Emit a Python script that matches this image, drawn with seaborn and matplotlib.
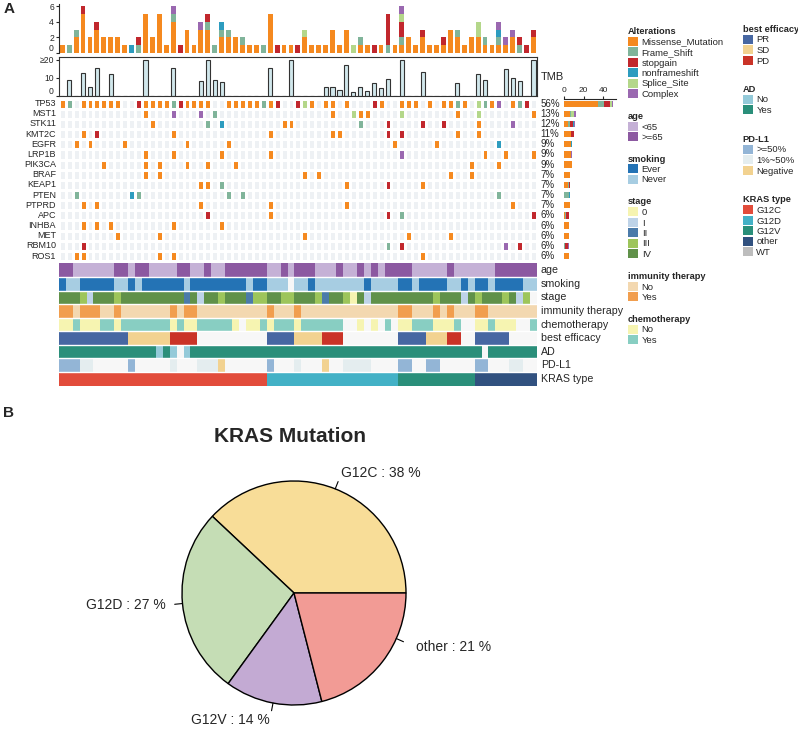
import numpy as np
import pandas as pd
import matplotlib.pyplot as plt
import seaborn as sns
from matplotlib.colors import ListedColormap
from matplotlib.patches import Patch

sns.set_style("white")
plt.rcParams["font.family"] = ["Liberation Sans", "DejaVu Sans"]

W, H = 798, 731

# ---------------- oncoprint data (69 samples shown, cohort of 89) ----------------
n_samples = 69
cohort_size = 89
genes = ["TP53", "MST1", "STK11", "KMT2C", "EGFR", "LRP1B", "PIK3CA", "BRAF",
         "KEAP1", "PTEN", "PTPRD", "APC", "INHBA", "MET", "RBM10", "ROS1"]

alterations = ["Missense_Mutation", "Frame_Shift", "stopgain",
               "nonframeshift", "Splice_Site", "Complex"]
alt_colors = ["#F5891F", "#80B49A", "#C1272D", "#2D9CBF", "#B4D78A", "#9A68B0"]

# sample columns carrying each alteration type, per gene
missense = {
    "TP53": [0, 3, 4, 5, 6, 7, 8, 12, 13, 14, 15, 18, 19, 20, 21, 24, 25, 26, 27, 28,
             30, 36, 38, 39, 41, 46, 49, 50, 51, 53, 55, 56, 58, 62, 65],
    "MST1": [12, 39, 43, 44, 57, 68],
    "STK11": [13, 32, 33, 60],
    "KMT2C": [3, 16, 30, 39, 40, 57, 60],
    "EGFR": [2, 4, 9, 18, 24, 48, 54],
    "LRP1B": [12, 16, 23, 30, 61, 64, 68],
    "PIK3CA": [6, 12, 14, 18, 21, 25, 59, 63],
    "BRAF": [12, 14, 35, 37, 56, 59],
    "KEAP1": [20, 21, 41, 52],
    "PTPRD": [3, 5, 20, 30, 41, 65],
    "APC": [30],
    "INHBA": [3, 5, 7, 16, 23],
    "MET": [8, 14, 35, 50, 56],
    "ROS1": [2, 3, 14, 16, 52],
}
frame_shift = {
    "TP53": [1, 16, 29, 57, 61, 66],
    "MST1": [22],
    "STK11": [21, 43],
    "KEAP1": [23],
    "PTEN": [2, 11, 24, 26, 63],
    "APC": [49],
    "RBM10": [47],
}
stopgain = {
    "TP53": [11, 17, 31, 34, 45, 67],
    "STK11": [47, 52, 55],
    "KMT2C": [5, 47, 49],
    "KEAP1": [47],
    "APC": [21, 47, 68],
    "RBM10": [3, 49, 66],
}
nonframeshift = {"STK11": [23], "EGFR": [63], "PTEN": [10]}
splice_site = {"TP53": [35, 60], "MST1": [42, 49, 60]}
complex_mut = {"TP53": [63], "MST1": [16, 20], "STK11": [65], "LRP1B": [49], "RBM10": [64]}

# tumour mutation burden per sample (display capped at 20)
tmb = [0, 9, 0, 12.5, 5, 15.5, 0, 12, 0, 0,
       0, 0, 20, 0, 0, 0, 15.5, 0, 0, 0,
       8.5, 20, 9, 7.5, 0, 0, 0, 0, 0, 0,
       15.5, 0, 0, 20, 0, 0, 0, 0, 5, 5,
       3.4, 17, 2.2, 4.7, 2.8, 7, 4.3, 9.3, 0, 20,
       0, 0, 13, 0, 0, 0, 0, 7, 0, 0,
       12, 8.8, 0, 0, 15, 9.7, 8.2, 0, 20]

# clinical annotation tracks, as (value, run length) along the samples
age_runs = [(">=65", 2), ("<65", 6), (">=65", 2), ("<65", 1), (">=65", 2), ("<65", 4),
            (">=65", 2), ("<65", 2), (">=65", 1), ("<65", 2), (">=65", 6), ("<65", 2),
            (">=65", 1), ("<65", 1), (">=65", 3), ("<65", 3), (">=65", 1), ("<65", 2),
            (">=65", 1), ("<65", 1), (">=65", 1), ("<65", 1), (">=65", 4), ("<65", 5),
            (">=65", 1), ("<65", 6), (">=65", 6)]
smoking_runs = [("Ever", 1), ("Never", 2), ("Ever", 5), ("Never", 2), ("Ever", 1), ("Never", 1),
                ("Ever", 6), ("Never", 1), ("Ever", 8), ("Never", 1), ("Ever", 2), ("Never", 3),
                ("NA", 1), ("Never", 2), ("Ever", 1), ("Never", 7), ("Ever", 1), ("Never", 4),
                ("Ever", 2), ("Never", 1), ("Ever", 4), ("Never", 2), ("Ever", 1), ("Never", 1),
                ("Ever", 2), ("Never", 1), ("Ever", 4), ("Never", 2)]
stage_runs = [("IV", 3), ("III", 1), ("I", 1), ("IV", 3), ("III", 1), ("IV", 9), ("II", 1),
              ("IV", 1), ("I", 1), ("IV", 2), ("III", 1), ("IV", 3), ("II", 1), ("III", 2),
              ("IV", 2), ("III", 2), ("IV", 3), ("III", 1), ("II", 1), ("IV", 2), ("III", 1),
              ("0", 1), ("IV", 1), ("I", 1), ("IV", 9), ("III", 1), ("IV", 3), ("I", 1),
              ("IV", 1), ("III", 1), ("IV", 3), ("III", 1), ("IV", 1), ("I", 1), ("III", 1),
              ("NA", 1)]
immunity_runs = [("Yes", 2), ("No", 1), ("Yes", 3), ("No", 2), ("Yes", 1), ("No", 7), ("Yes", 1),
                 ("No", 1), ("Yes", 2), ("No", 10), ("Yes", 1), ("No", 3), ("Yes", 1), ("No", 14),
                 ("Yes", 2), ("No", 3), ("Yes", 1), ("No", 1), ("Yes", 1), ("No", 3), ("Yes", 2),
                 ("No", 7)]
chemo_runs = [("No", 2), ("Yes", 1), ("No", 3), ("Yes", 2), ("No", 1), ("Yes", 7), ("No", 1),
              ("Yes", 1), ("No", 2), ("Yes", 5), ("No", 1), ("NA", 1), ("No", 2), ("Yes", 1),
              ("No", 1), ("Yes", 3), ("No", 1), ("Yes", 6), ("NA", 2), ("No", 1), ("NA", 1),
              ("No", 1), ("NA", 1), ("Yes", 1), ("NA", 1), ("No", 2), ("Yes", 3), ("No", 3),
              ("Yes", 1), ("NA", 2), ("No", 2), ("Yes", 1), ("No", 3), ("NA", 2), ("Yes", 1)]
efficacy_runs = [("PR", 10), ("SD", 6), ("PD", 4), ("NA", 10), ("PR", 4), ("SD", 4), ("PD", 3),
                 ("NA", 8), ("PR", 4), ("SD", 3), ("PD", 2), ("NA", 2), ("PR", 5), ("NA", 4)]
ad_runs = [("Yes", 14), ("No", 1), ("Yes", 1), ("No", 1), ("NA", 1), ("No", 1), ("Yes", 42),
           ("NA", 1), ("Yes", 7)]
pdl1_runs = [(">=50%", 3), ("1%~50%", 2), ("NA", 5), (">=50%", 1), ("NA", 5), ("1%~50%", 1),
             ("NA", 3), ("1%~50%", 3), ("Negative", 1), ("NA", 6), (">=50%", 1), ("NA", 3),
             ("1%~50%", 1), ("NA", 3), ("Negative", 1), ("NA", 2), ("1%~50%", 4), ("NA", 4),
             (">=50%", 2), ("NA", 2), (">=50%", 2), ("NA", 5), (">=50%", 2), ("NA", 3),
             ("1%~50%", 2), ("NA", 2)]
kras_runs = [("G12C", 30), ("G12D", 19), ("G12V", 11), ("other", 9)]

track_names = ["age", "smoking", "stage", "immunity therapy", "chemotherapy",
               "best efficacy", "AD", "PD-L1", "KRAS type"]
track_palettes = [
    {"<65": "#C5B1D6", ">=65": "#8C59A1"},
    {"Ever": "#2473B5", "Never": "#A7CDE2"},
    {"0": "#F6F4B1", "I": "#BED3E8", "II": "#4B7BAA", "III": "#9DC55B", "IV": "#609149"},
    {"No": "#F3D8B0", "Yes": "#F19E4E"},
    {"No": "#F6F4B1", "Yes": "#88CEC2"},
    {"PR": "#4767A2", "SD": "#F2D290", "PD": "#CA3327"},
    {"No": "#94CAD9", "Yes": "#2A8F7A"},
    {">=50%": "#93B5D6", "1%~50%": "#E4EDEF", "Negative": "#F2D290"},
    {"G12C": "#E24C3B", "G12D": "#43B1C6", "G12V": "#2A8F7A", "other": "#31517F", "WT": "#BDBDBD"},
]
na_color = "#F7F7F7"

# pie of KRAS subtypes
kras_labels = ["G12C", "G12D", "G12V", "other"]
kras_share = [38, 27, 14, 21]
pie_colors = ["#F8DD98", "#C5DDB5", "#C3AAD3", "#F29B95"]


def expand(runs):
    return [v for v, n in runs for _ in range(n)]


# mutation matrix: 0 = none, 1..6 = alteration type
onco = np.zeros((len(genes), n_samples), dtype=int)
for code, table in enumerate([missense, frame_shift, stopgain, nonframeshift,
                              splice_site, complex_mut], start=1):
    for g, cols in table.items():
        onco[genes.index(g), cols] = code

# annotation codes into one shared colour list
track_runs = [age_runs, smoking_runs, stage_runs, immunity_runs, chemo_runs,
              efficacy_runs, ad_runs, pdl1_runs, kras_runs]
palette_colors = [na_color]
track_codes = np.zeros((len(track_names), n_samples), dtype=int)
for i, (runs, pal) in enumerate(zip(track_runs, track_palettes)):
    offset = len(palette_colors)
    cats = list(pal)
    palette_colors += list(pal.values())
    track_codes[i] = [0 if v == "NA" else offset + cats.index(v) for v in expand(runs)]

fig = plt.figure(figsize=(W / 100, H / 100), dpi=100)


def px_axes(x0, y0, x1, y1):
    return fig.add_axes([x0 / W, 1 - y1 / H, (x1 - x0) / W, (y1 - y0) / H])


GX0, GX1 = 58.8, 537.0
xpos = np.arange(n_samples) + 0.5

# top stacked barplot of alterations per sample
ax_top = px_axes(GX0, 4, GX1, 53)
bottom = np.zeros(n_samples)
for t, color in enumerate(alt_colors):
    h = (onco == t + 1).sum(axis=0)
    ax_top.bar(xpos, h, bottom=bottom, width=0.7, color=color, linewidth=0)
    bottom += h
ax_top.set_xlim(0, n_samples)
ax_top.set_ylim(0, 6.3)
ax_top.set_yticks([0, 2, 4, 6])
ax_top.set_xticks([])
sns.despine(ax=ax_top, bottom=True)
ax_top.spines["left"].set_linewidth(0.8)
ax_top.tick_params(axis="y", left=True, labelsize=6.2, length=2.5, width=0.8, pad=1)
ax_top.get_yticklabels()[0].set_va("bottom")

# TMB panel
ax_tmb = px_axes(GX0, 57, GX1, 96)
sns.barplot(x=np.arange(n_samples), y=tmb, color="#CDEAF0", edgecolor="#333333",
            linewidth=0.8, width=0.6, ax=ax_tmb)
ax_tmb.set_xlim(-0.5, n_samples - 0.5)
ax_tmb.set_ylim(0, 21.5)
ax_tmb.set_yticks([0, 10, 20])
ax_tmb.set_yticklabels(["0", "10", "≥20"])
ax_tmb.set_xticks([])
ax_tmb.set_xlabel("")
ax_tmb.set_ylabel("")
for s in ax_tmb.spines.values():
    s.set_linewidth(0.8)
    s.set_color("#333333")
ax_tmb.tick_params(axis="y", left=True, labelsize=6.2, length=2.5, width=0.8, pad=1)
ax_tmb.get_yticklabels()[0].set_va("bottom")
fig.text(541 / W, 1 - 77 / H, "TMB", fontsize=8, va="center", ha="left")

# mutation grid
ax_grid = px_axes(GX0, 98.6, GX1, 261.1)
sns.heatmap(pd.DataFrame(onco, index=genes), cmap=ListedColormap(["#EEF1F4"] + alt_colors),
            vmin=-0.5, vmax=6.5, cbar=False, linewidths=1.0, linecolor="white",
            xticklabels=False, yticklabels=True, ax=ax_grid)
for r in range(1, len(genes)):
    ax_grid.axhline(r, color="white", lw=2.2)
ax_grid.tick_params(axis="y", length=0, pad=2, labelsize=6.5)
plt.setp(ax_grid.get_yticklabels(), rotation=0)
ax_grid.set_xlabel("")
ax_grid.set_ylabel("")
gene_totals = (onco > 0).sum(axis=1)
for r, total in enumerate(gene_totals):
    ax_grid.text(n_samples + 0.55, r + 0.5, f"{round(100 * total / cohort_size)}%",
                 va="center", ha="left", fontsize=7, clip_on=False)

# per-gene stacked bars on the right
ax_bar = px_axes(564, 98.6, 616, 261.1)
left = np.zeros(len(genes))
for t, color in enumerate(alt_colors):
    w = (onco == t + 1).sum(axis=1)
    ax_bar.barh(np.arange(len(genes)) + 0.5, w, left=left, height=0.62, color=color, linewidth=0)
    left += w
ax_bar.set_ylim(len(genes), 0)
ax_bar.set_xlim(0, 52.8)
ax_bar.xaxis.tick_top()
ax_bar.set_xticks([0, 20, 40])
ax_bar.set_yticks([])
for s in ["left", "right", "bottom"]:
    ax_bar.spines[s].set_visible(False)
ax_bar.spines["top"].set_linewidth(0.8)
ax_bar.tick_params(axis="x", top=True, length=2, width=0.8, labelsize=6, pad=1)

# clinical annotation tracks
ax_tr = px_axes(GX0, 263.3, GX1, 385.7)
sns.heatmap(track_codes, cmap=ListedColormap(palette_colors), vmin=-0.5,
            vmax=len(palette_colors) - 0.5, cbar=False, xticklabels=False,
            yticklabels=False, ax=ax_tr)
for r in range(1, len(track_names)):
    ax_tr.axhline(r, color="white", lw=1.0)
for r, name in enumerate(track_names):
    ax_tr.text(n_samples + 0.55, r + 0.5, name, va="center", ha="left",
               fontsize=7.7, clip_on=False)


# legends
def add_legend(title, labels, colors, x, y):
    handles = [Patch(facecolor=c, edgecolor="none", label=l) for l, c in zip(labels, colors)]
    leg = fig.legend(handles=handles, title=title, loc="upper left",
                     bbox_to_anchor=(x / W, 1 - y / H), frameon=False,
                     fontsize=6.8, title_fontsize=6.7, handlelength=1.1, handleheight=1.1,
                     handletextpad=0.35, labelspacing=0.08, borderpad=0, borderaxespad=0,
                     alignment="left")
    leg.get_title().set_fontweight("bold")


add_legend("Alterations", alterations, alt_colors, 628, 27)
legend_spots = {
    "age": (628, 112), "smoking": (628, 154.5), "stage": (628, 197.5),
    "immunity therapy": (628, 272), "chemotherapy": (628, 315),
    "best efficacy": (742.7, 25), "AD": (742.7, 85), "PD-L1": (742.7, 135),
    "KRAS type": (742.7, 195.5),
}
for name, pal in zip(track_names, track_palettes):
    x, y = legend_spots[name]
    add_legend(name, list(pal), list(pal.values()), x, y)

# pie chart
R, cx, cy = 112, 294, 593
ax_pie = px_axes(cx - 1.25 * R, cy - 1.25 * R, cx + 1.25 * R, cy + 1.25 * R)
wedges, texts = ax_pie.pie(kras_share, labels=[f"{l} : {s} %" for l, s in zip(kras_labels, kras_share)],
                           colors=pie_colors, startangle=0, counterclock=True, labeldistance=1.15,
                           wedgeprops=dict(edgecolor="black", linewidth=1.0),
                           textprops=dict(fontsize=10))
ax_pie.set_xlim(-1.25, 1.25)
ax_pie.set_ylim(-1.25, 1.25)
# the "other" label sits a bit higher in the original
a = np.deg2rad(-24)
texts[-1].set_position((1.19 * np.cos(a), 1.19 * np.sin(a)))
# short leader ticks pointing at each label
for txt in texts:
    tx, ty = txt.get_position()
    a = np.arctan2(ty, tx)
    ax_pie.plot([np.cos(a), 1.07 * np.cos(a)], [np.sin(a), 1.07 * np.sin(a)], color="black", lw=0.8)

fig.text(290 / W, 1 - 437 / H, "KRAS Mutation", fontsize=15, fontweight="bold", ha="center", va="center")
fig.text(9 / W, 1 - 9 / H, "A", fontsize=11, fontweight="bold", ha="center", va="center")
fig.text(9 / W, 1 - 413 / H, "B", fontsize=11, fontweight="bold", ha="center", va="center")

fig.savefig("out.png", dpi=100)
